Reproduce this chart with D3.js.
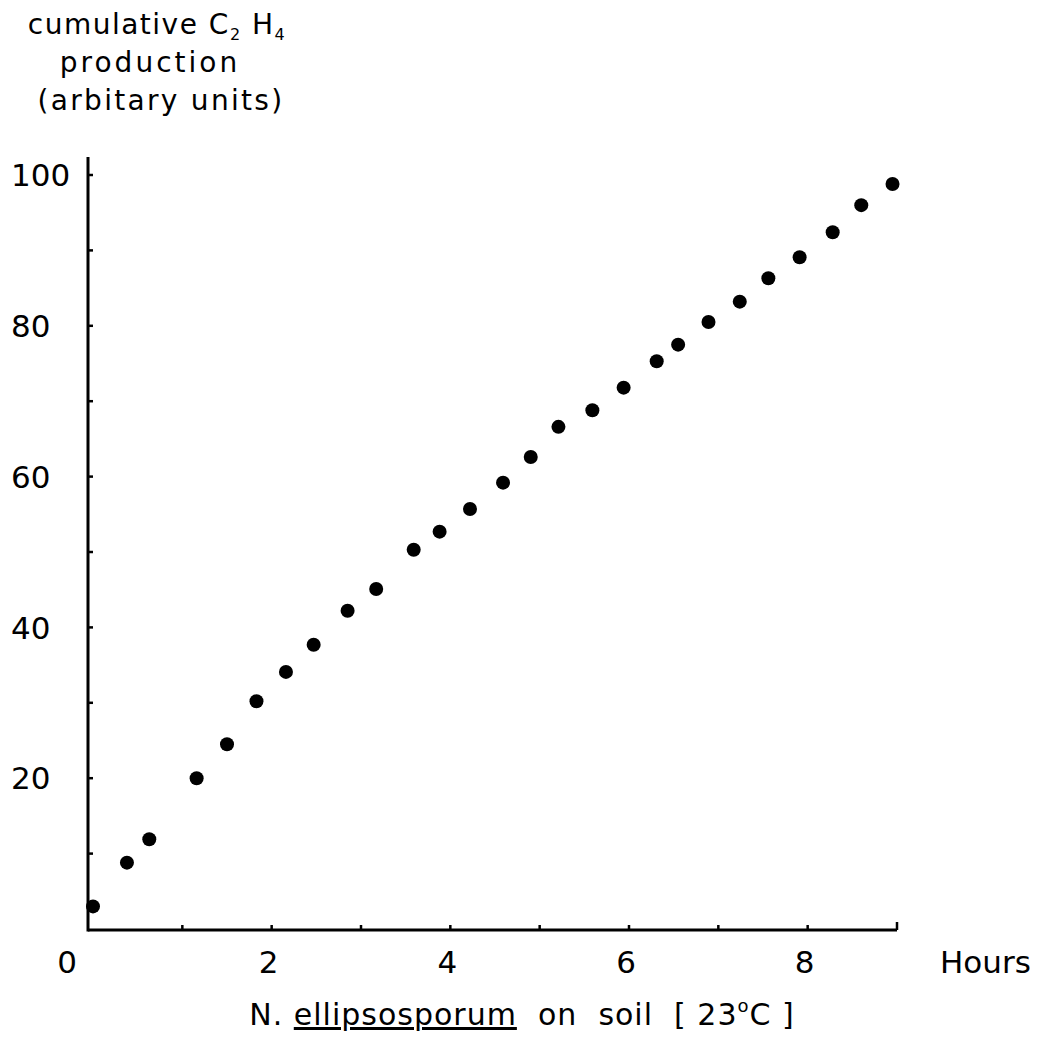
<!DOCTYPE html>
<html><head><meta charset="utf-8">
<script src="https://cdn.jsdelivr.net/npm/d3@7"></script>
<style>
html,body{margin:0;padding:0;background:#fff;}
svg{display:block;font-family:"DejaVu Sans",sans-serif;}
text{white-space:pre;}
</style></head>
<body>
<svg id="chart" width="1039" height="1055"></svg>
<script>
// Data
const hours = [0.00,0.38,0.63,1.16,1.50,1.83,2.16,2.47,2.85,3.17,3.59,3.88,4.22,4.59,4.90,5.21,5.59,5.94,6.31,6.55,6.89,7.24,7.56,7.91,8.28,8.60,8.95];
const production = [3.0,8.8,11.9,20.0,24.5,30.2,34.1,37.7,42.2,45.1,50.3,52.7,55.7,59.2,62.6,66.6,68.8,71.8,75.3,77.5,80.5,83.2,86.3,89.1,92.4,96.0,98.8];
const xTicks = [1,2,3,4,5,6,7,8,9];
const xTickLabels = [0,2,4,6,8];
const yTicks = [10,20,30,40,50,60,70,80,90,100];
const yTickLabels = [20,40,60,80,100];

const svg = d3.select("#chart");
const x = d3.scaleLinear().domain([0,9]).range([93,897]);
const y = d3.scaleLinear().domain([0,100]).range([929,175]);
const axisX = 88, axisY = 930;

// axes lines
const g = svg.append("g").attr("stroke","#000").attr("fill","none");
g.append("line").attr("x1",axisX).attr("x2",axisX).attr("y1",157).attr("y2",axisY+1.5).attr("stroke-width",3);
g.append("line").attr("x1",axisX).attr("x2",x(9)).attr("y1",axisY).attr("y2",axisY).attr("stroke-width",3);
// x ticks (upward)
g.selectAll("line.xt").data(xTicks).join("line").attr("class","xt")
  .attr("x1",d=>x(d)).attr("x2",d=>x(d)).attr("y1",axisY).attr("y2",d=>d===9?axisY-8:axisY-5).attr("stroke-width",2.5);
// y ticks (rightward)
g.selectAll("line.yt").data(yTicks).join("line").attr("class","yt")
  .attr("x1",axisX).attr("x2",axisX+5).attr("y1",d=>y(d)).attr("y2",d=>y(d)).attr("stroke-width",2.5);

// tick labels
svg.selectAll("text.xl").data(xTickLabels).join("text").attr("class","xl")
  .attr("x",d=>d===0?67:x(d)-3).attr("y",973).attr("text-anchor","middle")
  .attr("font-size",31).attr("fill","#000").text(d=>d);
svg.selectAll("text.yl").data(yTickLabels).join("text").attr("class","yl")
  .attr("x",11).attr("y",d=>y(d)).attr("dy","0.36em").attr("text-anchor","start")
  .attr("font-size",31).attr("fill","#000").text(d=>d);

svg.append("text").attr("x",940).attr("y",973).attr("font-size",31).attr("fill","#000").text("Hours");

// y title
const t = svg.append("g").attr("font-size",28).attr("fill","#000").attr("text-anchor","middle").attr("letter-spacing",1.5);
const l1 = t.append("text").attr("x",157).attr("y",34);
l1.append("tspan").text("cumulative C");
l1.append("tspan").attr("font-size",16).attr("dy",6).text("2");
l1.append("tspan").attr("dy",-6).text(" H");
l1.append("tspan").attr("font-size",16).attr("dy",6).text("4");
t.append("text").attr("x",150).attr("y",72).attr("letter-spacing",3).text("production");
t.append("text").attr("x",161).attr("y",110).attr("letter-spacing",2.3).text("(arbitary units)");

// caption
const cap = svg.append("text").attr("x",522).attr("y",1025).attr("text-anchor","middle")
  .attr("font-size",30).attr("fill","#000").attr("letter-spacing",1);
cap.append("tspan").text("N. ");
cap.append("tspan").attr("text-decoration","underline").text("ellipsosporum");
cap.append("tspan").text("  on  soil  [ 23");
cap.append("tspan").attr("font-size",18).attr("dy",-13).text("o");
cap.append("tspan").attr("dy",13).text("C ]");

// points
svg.append("g").selectAll("circle").data(hours.map((h,i)=>({h,p:production[i]}))).join("circle")
  .attr("cx",d=>x(d.h)).attr("cy",d=>y(d.p)).attr("r",7).attr("fill","#000");
</script>
</body></html>
